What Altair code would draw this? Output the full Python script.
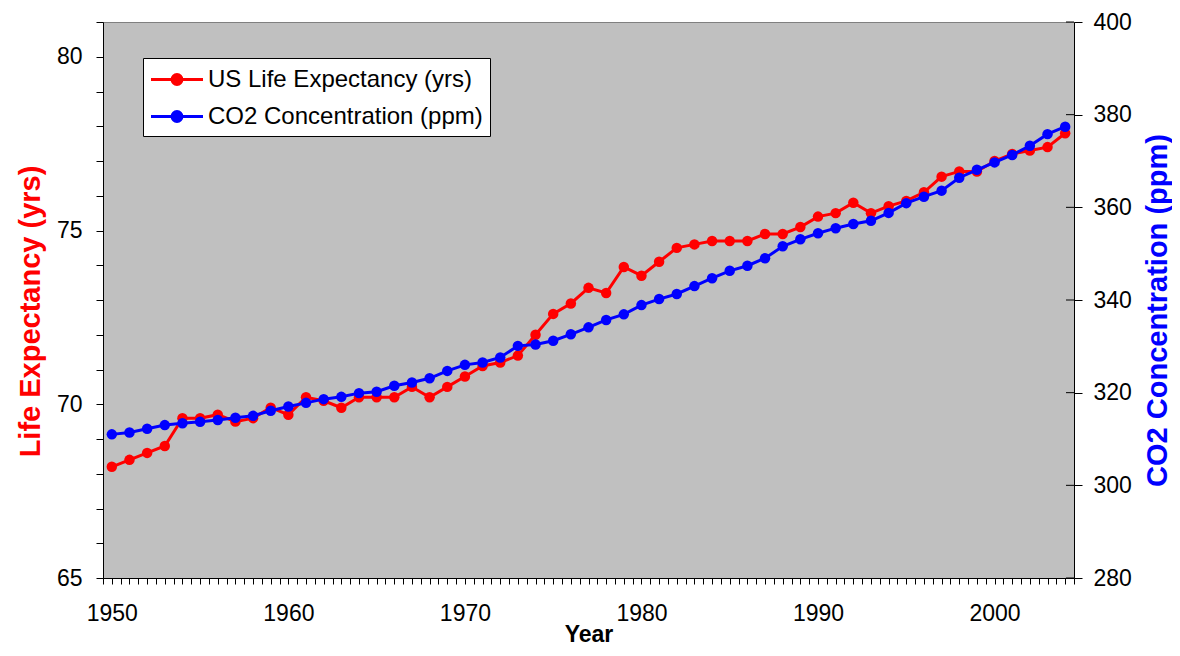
import altair as alt
import pandas as pd

# ---- data ----
years = list(range(1950, 2005))
life_exp = [68.2, 68.4, 68.6, 68.8, 69.6, 69.6, 69.7, 69.5, 69.6, 69.9,
            69.7, 70.2, 70.1, 69.9, 70.2, 70.2, 70.2, 70.5, 70.2, 70.5,
            70.8, 71.1, 71.2, 71.4, 72.0, 72.6, 72.9, 73.35, 73.2, 73.95,
            73.7, 74.1, 74.5, 74.6, 74.7, 74.7, 74.7, 74.9, 74.9, 75.1,
            75.4, 75.5, 75.8, 75.5, 75.7, 75.85, 76.1, 76.55, 76.7, 76.7,
            77.0, 77.2, 77.3, 77.4, 77.8]
co2 = [311.0, 311.4, 312.2, 313.0, 313.4, 313.7, 314.1, 314.6, 315.0, 316.1,
       317.0, 317.8, 318.6, 319.1, 319.9, 320.2, 321.5, 322.2, 323.1, 324.7,
       326.0, 326.5, 327.6, 330.1, 330.4, 331.2, 332.6, 334.1, 335.7, 336.9,
       338.9, 340.2, 341.3, 343.0, 344.7, 346.3, 347.4, 349.0, 351.6, 353.1,
       354.4, 355.5, 356.4, 357.1, 358.8, 360.9, 362.3, 363.6, 366.4, 368.1,
       369.7, 371.3, 373.3, 375.8, 377.4]

series_names = ["US Life Expectancy (yrs)", "CO2 Concentration (ppm)"]
series_colors = ["#FF0000", "#0000FF"]

x_ticks = [1949.5 + 0.5 * i for i in range(111)]
life_ticks = list(range(65, 82))
co2_ticks = [280, 300, 320, 340, 360, 380, 400]

FONT = "Liberation Sans"

life_df = pd.DataFrame({"Year": years, "Value": life_exp, "Series": series_names[0]})
co2_df = pd.DataFrame({"Year": years, "Value": co2, "Series": series_names[1]})
tick_df = pd.DataFrame({"Value": co2_ticks})


def circle(cx, r):
    return f"M{cx - r},0A{r},{r} 0 1,0 {cx + r},0A{r},{r} 0 1,0 {cx - r},0Z"


cx = 0.96
legend_path = "M-1.04,0L2.96,0" + circle(cx, 0.38) + circle(cx, 0.2) + circle(cx, 0.05)

color_scale = alt.Scale(domain=series_names, range=series_colors)
legend = alt.Legend(
    title=None, orient="none", legendX=40, legendY=36,
    fillColor="white", strokeColor="black", padding=7, rowPadding=10,
    labelFontSize=24, labelFont=FONT, labelColor="black", labelLimit=600,
    labelOffset=29, symbolType=legend_path, symbolSize=676, symbolStrokeWidth=3,
)
color_enc = alt.Color("Series:N", scale=color_scale, legend=legend, sort=series_names)

x_enc = alt.X(
    "Year:Q",
    scale=alt.Scale(domain=[1949.5, 2004.5], nice=False, zero=False),
    axis=alt.Axis(
        values=x_ticks,
        labelExpr="datum.value % 10 === 0 ? format(datum.value, 'd') : ''",
        labelOverlap=False, labelFlush=False,
        tickSize=6, labelPadding=18, labelFontSize=23,
        title="Year", titleFontSize=23, titleFontWeight="bold",
        titleBaseline="alphabetic", titleY=63,
    ),
)

co2_axis = alt.Axis(
    orient="right", values=co2_ticks,
    labelOverlap=False, labelFlush=False,
    tickSize=8, labelPadding=11, labelFontSize=23,
    title="CO2 Concentration (ppm)", titleColor="#0000FF",
    titleFontSize=29, titleFontWeight="bold", titleAngle=270,
    titleX=83, titleY=288, titleAlign="center", titleBaseline="middle",
)

life_layer = alt.Chart(life_df).mark_line(
    strokeWidth=3, point=alt.OverlayMarkDef(filled=True, size=110, opacity=1)
).encode(
    x=x_enc,
    y=alt.Y(
        "Value:Q",
        scale=alt.Scale(domain=[65, 81], nice=False, zero=False),
        axis=alt.Axis(
            orient="left", values=life_ticks,
            labelExpr="datum.value % 5 === 0 ? datum.label : ''",
            labelOverlap=False, labelFlush=False,
            tickSize=7, labelPadding=14, labelFontSize=23,
            title="Life Expectancy (yrs)", titleColor="#FF0000",
            titleFontSize=29, titleFontWeight="bold", titleAngle=270,
            titleX=-73, titleY=289, titleAlign="center", titleBaseline="middle",
        ),
    ),
    color=color_enc,
)

co2_layer = alt.Chart(co2_df).mark_line(
    strokeWidth=3, point=alt.OverlayMarkDef(filled=True, size=110, opacity=1)
).encode(
    x=x_enc,
    y=alt.Y(
        "Value:Q",
        scale=alt.Scale(domain=[280, 400], nice=False, zero=False),
        axis=co2_axis,
    ),
    color=color_enc,
)

# inner half of the right-axis cross ticks
co2_inner_ticks = alt.Chart(tick_df).mark_rule(color="black", strokeWidth=1).encode(
    y=alt.Y("Value:Q", axis=co2_axis),
    x=alt.value(971),
    x2=alt.value(963),
)

chart = alt.layer(
    life_layer,
    alt.layer(co2_layer, co2_inner_ticks),
).resolve_scale(
    y="independent"
).properties(
    width=971, height=556,
    padding={"left": 95, "top": 14, "right": 98, "bottom": 70},
    autosize=alt.AutoSizeParams(type="none"),
).configure(
    font=FONT,
).configure_view(
    fill="#C0C0C0", stroke="#808080", strokeWidth=1,
).configure_axis(
    grid=False, domainColor="black", tickColor="black", labelColor="black",
    labelFont=FONT, titleFont=FONT, domainWidth=1, tickWidth=1,
)

chart.save("out.html", embed_options={"renderer": "svg", "actions": False})
